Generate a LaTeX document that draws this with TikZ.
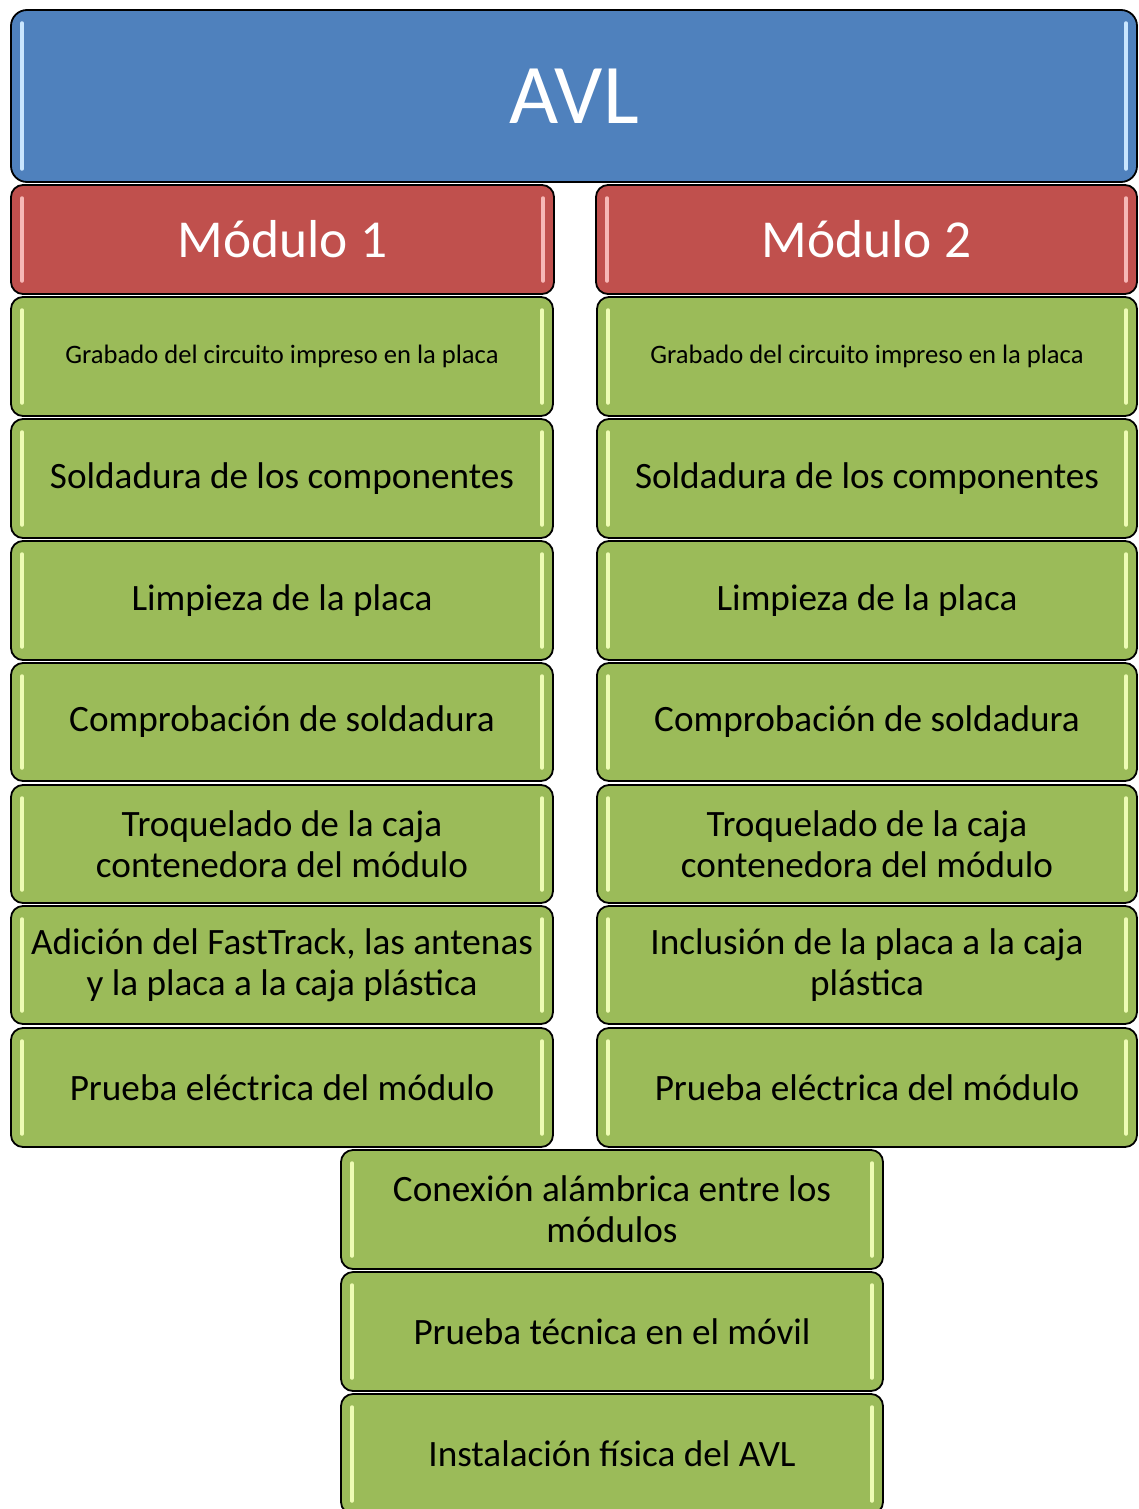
\documentclass[tikz,border=0pt]{standalone}
\usepackage{fontspec}
\setmainfont{Carlito}
\definecolor{avlblue}{HTML}{4F81BD}
\definecolor{modred}{HTML}{C0504D}
\definecolor{stepgreen}{HTML}{9BBB59}
\definecolor{hlblue}{HTML}{C9E6FF}
\definecolor{hlred}{HTML}{F6B8B6}
\definecolor{hlgreen}{HTML}{EEFCB4}
\tikzset{
  card/.style={draw=black, line width=1.8pt, rounded corners=12pt, inner sep=0pt, outer sep=0pt, align=center},
  topcard/.style={card, fill=avlblue, text=white, font=\fontsize{85}{94}\selectfont, rounded corners=16pt},
  modcard/.style={card, fill=modred, text=white, font=\fontsize{53.4}{58}\selectfont},
  stepcard/.style={card, fill=stepgreen, text=black, font=\fontsize{37.2}{41}\selectfont},
  smallstep/.style={stepcard, font=\fontsize{26.6}{30}\selectfont},
  gloss/.style={line width=3.5pt, line cap=round},
}
\newcommand{\mybox}[7]{%
  \node[#6, minimum width={#4-#2}, minimum height={#5-#3}] (#1) at ({(#2+#4)/2},{(#3+#5)/2}) {#7};
}
\newcommand{\myshine}[2]{%
  \draw[gloss, #2] ([xshift=11pt,yshift=-13pt]#1.north west) -- ([xshift=11pt,yshift=13pt]#1.south west);
  \draw[gloss, #2] ([xshift=-11pt,yshift=-13pt]#1.north east) -- ([xshift=-11pt,yshift=13pt]#1.south east);
}
\begin{document}
\begin{tikzpicture}[x=1pt,y=-1pt]
\clip (0,0) rectangle (1138,1509);
\fill[white] (0,0) rectangle (1138,1509);
% AVL
\mybox{avl}{11}{10}{1137}{182}{topcard}{AVL}
\myshine{avl}{hlblue}
% Modules
\mybox{ma}{11}{185}{554}{294}{modcard}{Módulo 1}
\myshine{ma}{hlred}
\mybox{mb}{596}{185}{1137}{294}{modcard}{Módulo 2}
\myshine{mb}{hlred}
% Left column
\mybox{la}{11}{297}{553}{416}{smallstep}{Grabado del circuito impreso en la placa}
\myshine{la}{hlgreen}
\mybox{lb}{11}{419}{553}{538}{stepcard}{Soldadura de los componentes}
\myshine{lb}{hlgreen}
\mybox{lc}{11}{541}{553}{660}{stepcard}{Limpieza de la placa}
\myshine{lc}{hlgreen}
\mybox{ld}{11}{663}{553}{781}{stepcard}{Comprobación de soldadura}
\myshine{ld}{hlgreen}
\mybox{le}{11}{785}{553}{903}{stepcard}{Troquelado de la caja\\contenedora del módulo}
\myshine{le}{hlgreen}
\mybox{lf}{11}{906}{553}{1024}{stepcard}{Adición del FastTrack, las antenas\\y la placa a la caja plástica}
\myshine{lf}{hlgreen}
\mybox{lg}{11}{1028}{553}{1147}{stepcard}{Prueba eléctrica del módulo}
\myshine{lg}{hlgreen}
% Right column
\mybox{ra}{597}{297}{1137}{416}{smallstep}{Grabado del circuito impreso en la placa}
\myshine{ra}{hlgreen}
\mybox{rb}{597}{419}{1137}{538}{stepcard}{Soldadura de los componentes}
\myshine{rb}{hlgreen}
\mybox{rc}{597}{541}{1137}{660}{stepcard}{Limpieza de la placa}
\myshine{rc}{hlgreen}
\mybox{rd}{597}{663}{1137}{781}{stepcard}{Comprobación de soldadura}
\myshine{rd}{hlgreen}
\mybox{re}{597}{785}{1137}{903}{stepcard}{Troquelado de la caja\\contenedora del módulo}
\myshine{re}{hlgreen}
\mybox{rf}{597}{906}{1137}{1024}{stepcard}{Inclusión de la placa a la caja\\plástica}
\myshine{rf}{hlgreen}
\mybox{rg}{597}{1028}{1137}{1147}{stepcard}{Prueba eléctrica del módulo}
\myshine{rg}{hlgreen}
% Bottom
\mybox{ba}{341}{1150}{883}{1269}{stepcard}{Conexión alámbrica entre los\\módulos}
\myshine{ba}{hlgreen}
\mybox{bb}{341}{1272}{883}{1391}{stepcard}{Prueba técnica en el móvil}
\myshine{bb}{hlgreen}
\mybox{bc}{341}{1394}{883}{1514}{stepcard}{Instalación física del AVL}
\myshine{bc}{hlgreen}
\end{tikzpicture}
\end{document}
